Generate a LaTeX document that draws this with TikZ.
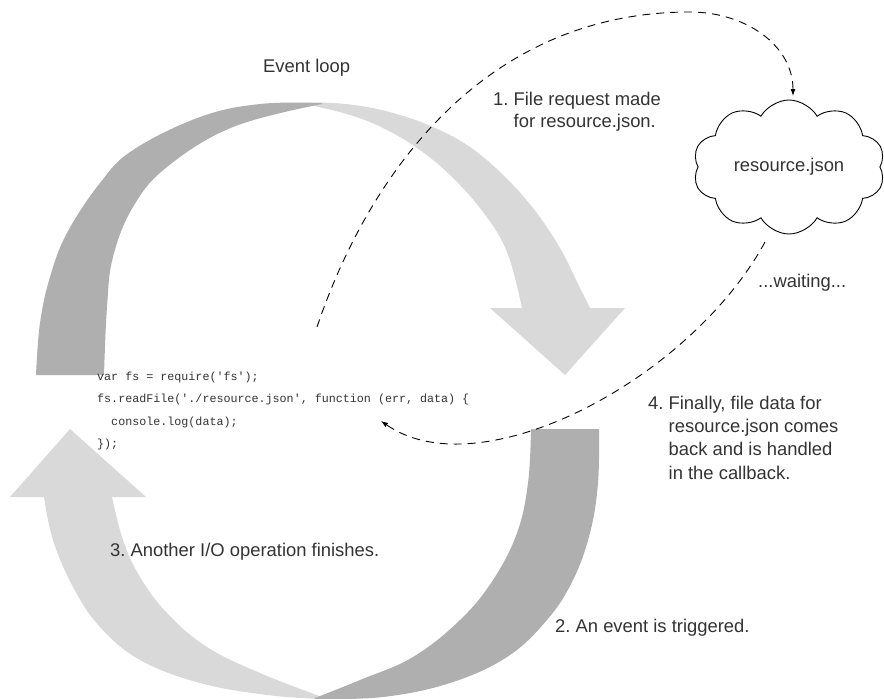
\documentclass[tikz,border=0pt]{standalone}
\usepackage{fontspec}
\setmainfont{Liberation Sans}
\setmonofont{Liberation Mono}
\usetikzlibrary{shapes.symbols,arrows.meta}
\definecolor{darkarc}{HTML}{AFAFAF}
\definecolor{lightarc}{HTML}{D9D9D9}
\definecolor{txt}{HTML}{333333}
\frenchspacing
\begin{document}
\begin{tikzpicture}[x=1pt,y=-1pt,
  lbl/.style={font=\fontsize{18.4}{23.3}\selectfont, text=txt, inner sep=0pt, anchor=base west},
  codeline/.style={font=\ttfamily\fontsize{11.7}{22.5}\selectfont, text=txt, inner sep=0pt, anchor=base west},
  dashconn/.style={draw=black, line width=0.9pt, dash pattern=on 8pt off 6pt, -{Latex[length=7pt,width=5pt]}},
  cloudbox/.style={cloud, draw=black, line width=0.9pt, cloud puffs=10, cloud puff arc=120, cloud ignores aspect, minimum width=192pt, minimum height=134pt, inner sep=0pt, font=\fontsize{18.4}{23.3}\selectfont, text=txt},
  smoothed/.style={smooth, tension=0.65}
]
\useasboundingbox (0,0) rectangle (884,699);

% event loop arcs
\fill[lightarc] plot[smoothed] coordinates {(305,103) (333,103) (367,107) (400,115) (433,127) (467,145) (500,172) (533,208) (560,248) (580,288) (590,308)}
  -- (625,308) -- (565,375) -- (490,308) -- (522,308)
  -- plot[smoothed] coordinates {(522,308) (507,252) (483,212) (450,175) (417,148) (383,128) (350,115) (310,105)} -- cycle;
\fill[darkarc] plot[smoothed] coordinates {(36,375) (40,323) (50,277) (67,233) (100,183) (133,150) (200,117) (260,104) (322,103)}
  -- plot[smoothed] coordinates {(322,104) (233,127) (167,167) (133,207) (113,257) (107,307) (104,375)} -- cycle;
\fill[lightarc] (10,497) -- (70,429) -- (146,497) -- (112,497)
  -- plot[smoothed] coordinates {(112,497) (123,540) (140,577) (167,613) (207,647) (260,673) (322,697)}
  -- plot[smoothed] coordinates {(322,699) (267,695) (200,683) (140,660) (100,627) (73,587) (53,540) (44,497)} -- cycle;
\fill[darkarc] (531,429) -- (599,429)
  -- plot[smoothed] coordinates {(599,429) (598,483) (590,533) (573,580) (547,620) (507,657) (450,683) (383,697) (315,699)}
  -- plot[smoothed] coordinates {(315,698) (360,680) (413,657) (460,620) (493,580) (517,533) (528,483) (531,429)} -- cycle;

% texts
\node[lbl] (title) at (263,72) {Event loop};
\node[lbl] (s1a) at (493,105) {1. File request made};
\node[lbl] (s1b) at (513.5,127) {for resource.json.};
\node[lbl] (wait) at (758,287) {...waiting...};
\node[lbl] (s4a) at (648,409) {4. Finally, file data for};
\node[lbl] (s4b) at (668.5,432.3) {resource.json comes};
\node[lbl] (s4c) at (668.5,455.6) {back and is handled};
\node[lbl] (s4d) at (668.5,479) {in the callback.};
\node[lbl] (s2) at (555,632) {2. An event is triggered.};
\node[lbl] (s3) at (110,556) {3. Another I/O operation finishes.};

% code
\node[codeline] (c1) at (97,380) {var fs = require(\textquotesingle fs\textquotesingle);};
\node[codeline] (c2) at (97,402.5) {fs.readFile(\textquotesingle./resource.json\textquotesingle, function (err, data) \{};
\node[codeline] (c3) at (97,425) {\hphantom{xx}console.log(data);};
\node[codeline] (c4) at (97,447.5) {\});};

% cloud
\node[cloudbox] (cld) at (789,167) {resource.json};

% connectors
\coordinate (reqstart) at (317,327);
\coordinate (cldin) at (793,96);
\coordinate (cldout) at (765,242);
\coordinate (cbk) at (381,421);
\draw[dashconn] (reqstart) .. controls (369,173) and (485,12) .. (690,12) .. controls (745,12) and (793,45) .. (cldin);
\draw[dashconn] (cldout) .. controls (690,380) and (480,490) .. (cbk);
\end{tikzpicture}
\end{document}
